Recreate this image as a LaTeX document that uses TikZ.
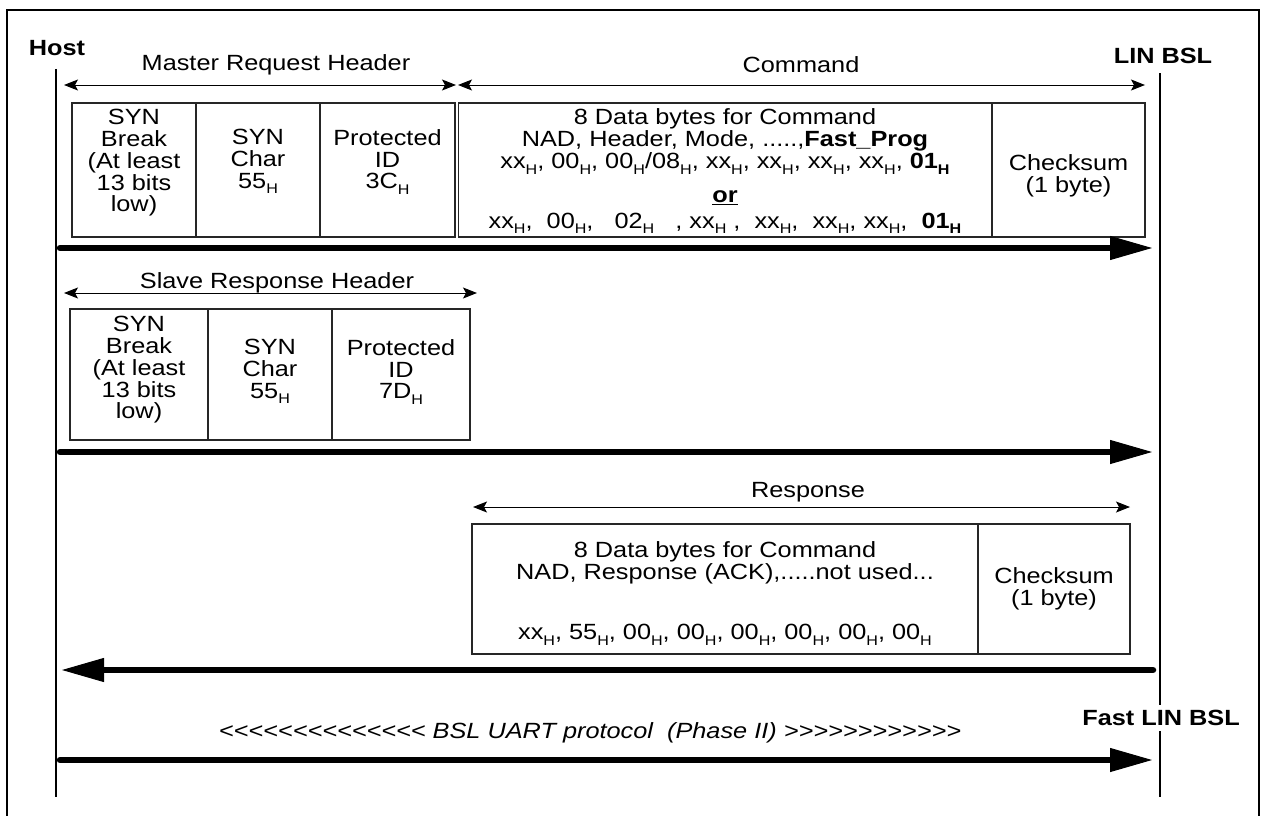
\documentclass[tikz,border=0pt]{standalone}
\usepackage{fontspec}
\setmainfont{Liberation Sans}[FakeStretch=1.15]
\usetikzlibrary{arrows.meta,positioning}

\newcommand{\subH}{\raisebox{-5.5pt}{\fontsize{14}{14}\selectfont H}}
\newcommand{\ltc}{\textless\kern0pt}
\newcommand{\gtc}{\textgreater\kern0pt}

\tikzset{
  cellbox/.style={draw=black!85, line width=1.2pt, inner sep=0pt},
  celltext/.style={align=center, inner sep=0pt, font=\fontsize{22}{21.7}\selectfont},
  heading/.style={inner sep=0pt, font=\fontsize{22}{21.7}\selectfont},
  actor/.style={inner sep=0pt, font=\fontsize{22}{21.7}\selectfont\bfseries},
  spanarrow/.style={{Stealth[length=14pt,width=11pt,inset=3pt]}-{Stealth[length=14pt,width=11pt,inset=3pt]}, line width=1pt},
  flowarrow/.style={-{Triangle[length=42pt,width=24pt,line width=1pt]}, line width=6.5pt, line cap=round},
  lifeline/.style={line width=1.1pt}
}

\begin{document}
\begin{tikzpicture}[x=1pt, y=-1pt]
  \useasboundingbox (0,0) rectangle (1263,816);

  % Frame
  \draw[line width=2.2pt] (7,816) -- (7,10) -- (1259,10) -- (1259,816);

  % Host and LIN BSL
  \node[actor] (host) at (57,48) {Host};
  \node[actor] (lin) at (1163,56) {LIN BSL};
  \coordinate (hosttop) at (56,69);
  \coordinate (hostbot) at (56,797);
  \coordinate (lintop) at (1160,73);
  \coordinate (linbot) at (1160,797);
  \draw[lifeline] (hosttop) -- (hostbot);
  \draw[lifeline] (lintop) -- (linbot);
  \node[actor, fill=white, inner sep=5pt] (fastlin) at (1161,718) {Fast LIN BSL};

  % Master request header and command
  \node[heading] (mrh) at (276,65) {Master Request Header};
  \node[heading] (cmd) at (801,65) {Command};
  \coordinate (mrhl) at (64,85);
  \coordinate (mrhr) at (456,85);
  \coordinate (cmdl) at (458,85);
  \coordinate (cmdr) at (1145,85);
  \draw[spanarrow] (mrhl) -- (mrhr);
  \draw[spanarrow] (cmdl) -- (cmdr);

  \node[cellbox, minimum width=124, minimum height=134] (mbrk) at (134,170) {};
  \node[cellbox, minimum width=124, minimum height=134] (mchr) at (258,170) {};
  \node[cellbox, minimum width=135, minimum height=134] (mpid) at (387.5,170) {};
  \node[cellbox, minimum width=533, minimum height=134] (mdat) at (725,170) {};
  \node[cellbox, minimum width=153, minimum height=134] (mchk) at (1068.5,170) {};
  \node[celltext, below=7pt of mbrk.north] (mbrktxt) {SYN\\Break\\(At least\\13 bits\\low)};
  \node[celltext, below=27pt of mchr.north] (mchrtxt) {SYN\\Char\\55\subH};
  \node[celltext, below=27pt of mpid.north] (mpidtxt) {Protected\\ID\\3C\subH};
  \node[celltext, below=6pt of mdat.north] (mdattxt) {8 Data bytes for Command\\
    NAD, Header, Mode, .....,\textbf{Fast\_Prog}\\[1pt]
    xx\subH, 00\subH, 00\subH/08\subH, xx\subH, xx\subH, xx\subH, xx\subH, \textbf{01\subH}\\[12pt]
    \underline{\textbf{or}}\\[4pt]
    xx\subH,\ \ 00\subH,\ \ \ 02\subH\ \ \ , xx\subH\ ,\ \ xx\subH,\ \ xx\subH, xx\subH,\ \ \textbf{01\subH}};
  \node[celltext, below=52pt of mchk.north] (mchktxt) {Checksum\\(1 byte)};

  \coordinate (hostreq) at (60,248);
  \coordinate (linreq) at (1152,248);
  \draw[flowarrow] (hostreq) -- (linreq);

  % Slave response header
  \node[heading] (srh) at (277,283) {Slave Response Header};
  \coordinate (srhl) at (64,293);
  \coordinate (srhr) at (477,293);
  \draw[spanarrow] (srhl) -- (srhr);

  \node[cellbox, minimum width=138, minimum height=131] (sbrk) at (139,374.5) {};
  \node[cellbox, minimum width=124, minimum height=131] (schr) at (270,374.5) {};
  \node[cellbox, minimum width=138, minimum height=131] (spid) at (401,374.5) {};
  \node[celltext, below=8pt of sbrk.north] (sbrktxt) {SYN\\Break\\(At least\\13 bits\\low)};
  \node[celltext, below=31pt of schr.north] (schrtxt) {SYN\\Char\\55\subH};
  \node[celltext, below=31pt of spid.north] (spidtxt) {Protected\\ID\\7D\subH};

  \coordinate (hosthdr) at (60,452);
  \coordinate (linhdr) at (1152,452);
  \draw[flowarrow] (hosthdr) -- (linhdr);

  % Response
  \node[heading] (rsp) at (808,492) {Response};
  \coordinate (rspl) at (473,507);
  \coordinate (rspr) at (1130,507);
  \draw[spanarrow] (rspl) -- (rspr);

  \node[cellbox, minimum width=506, minimum height=130] (rdat) at (725,589) {};
  \node[cellbox, minimum width=152, minimum height=130] (rchk) at (1054,589) {};
  \node[celltext, below=18pt of rdat.north] (rdattxt) {8 Data bytes for Command\\
    NAD, Response (ACK),.....not used...\\[39pt]
    xx\subH, 55\subH, 00\subH, 00\subH, 00\subH, 00\subH, 00\subH, 00\subH};
  \node[celltext, below=44pt of rchk.north] (rchktxt) {Checksum\\(1 byte)};

  \coordinate (linrsp) at (1153,670);
  \coordinate (hostrsp) at (62,670);
  \draw[flowarrow] (linrsp) -- (hostrsp);

  % BSL UART protocol
  \node[heading, font=\fontsize{22}{21.7}\selectfont\itshape] (uart) at (590,733)
    {\ltc\ltc\ltc\ltc\ltc\ltc\ltc\ltc\ltc\ltc\ltc\ltc\ltc\ltc\ BSL UART protocol\ \ (Phase II)\ \gtc\gtc\gtc\gtc\gtc\gtc\gtc\gtc\gtc\gtc\gtc\gtc};
  \coordinate (hostuart) at (60,760);
  \coordinate (linuart) at (1152,760);
  \draw[flowarrow] (hostuart) -- (linuart);
\end{tikzpicture}
\end{document}
